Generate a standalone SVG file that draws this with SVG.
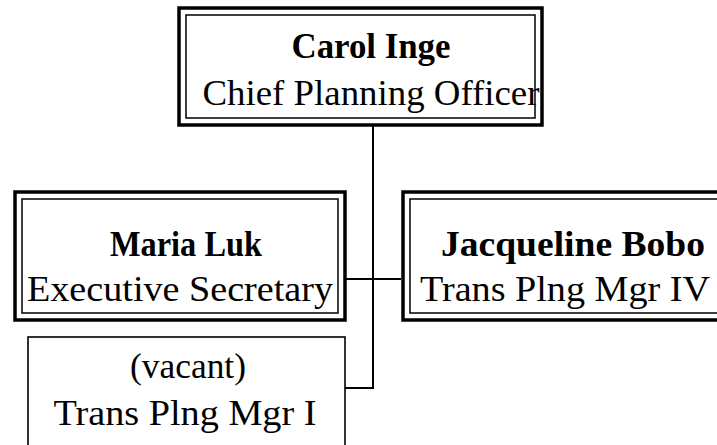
<svg xmlns="http://www.w3.org/2000/svg" width="717" height="445" viewBox="0 0 717 445">
<style>
.outer{fill:none;stroke:#000;stroke-width:3.5}
.inner{fill:none;stroke:#000;stroke-width:1.5}
.single{fill:#fff;stroke:#000;stroke-width:1.6}
.conn{fill:none;stroke:#000;stroke-width:2}
text{font-family:"Liberation Serif","Times New Roman",serif;font-size:36px;fill:#000;text-anchor:middle}
.b{font-weight:bold}
</style>
<rect width="717" height="445" fill="#fff"/>
<g id="connectors">
<polyline class="conn" points="373,126 373,388 345,388"/>
<line class="conn" x1="346" y1="279" x2="401" y2="279"/>
</g>
<g id="carol">
<rect class="outer" x="179" y="8" width="363" height="117"/>
<rect class="inner" x="186" y="15" width="349" height="103"/>
<text class="b" x="371" y="58" textLength="159" lengthAdjust="spacingAndGlyphs">Carol Inge</text>
<text x="371" y="105" textLength="337" lengthAdjust="spacingAndGlyphs">Chief Planning Officer</text>
</g>
<g id="maria">
<rect class="outer" x="15" y="192" width="330" height="128"/>
<rect class="inner" x="22" y="199" width="316" height="114"/>
<text class="b" x="186" y="256" textLength="152" lengthAdjust="spacingAndGlyphs">Maria Luk</text>
<text x="180" y="301" textLength="306" lengthAdjust="spacingAndGlyphs">Executive Secretary</text>
</g>
<g id="jacqueline">
<rect class="outer" x="403" y="192" width="330" height="128"/>
<rect class="inner" x="410" y="199" width="316" height="114"/>
<text class="b" x="573" y="256" textLength="264" lengthAdjust="spacingAndGlyphs">Jacqueline Bobo</text>
<text x="565" y="301" textLength="290" lengthAdjust="spacingAndGlyphs">Trans Plng Mgr IV</text>
</g>
<g id="vacant">
<rect class="single" x="28" y="337" width="317" height="120"/>
<text x="188" y="378" textLength="116" lengthAdjust="spacingAndGlyphs">(vacant)</text>
<text x="185" y="425" textLength="263" lengthAdjust="spacingAndGlyphs">Trans Plng Mgr I</text>
</g>
</svg>
